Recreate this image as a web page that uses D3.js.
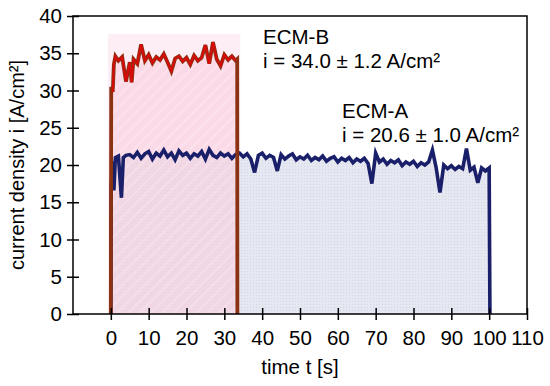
<!DOCTYPE html>
<html>
<head>
<meta charset="utf-8">
<script src="https://cdn.jsdelivr.net/npm/d3@7.9.0/dist/d3.min.js"></script>
<style>
  body { margin: 0; background: #fff; }
  svg { display: block; font-family: "Liberation Sans", Arial, sans-serif; }
  .axis text { font-size: 20.5px; fill: #000; }
  .axis path, .axis line { stroke: #000; stroke-width: 1.5; }
</style>
</head>
<body>
<svg id="chart" width="550" height="386"></svg>
<script>
// ECM-A: time [s] and current density [A/cm²]
const timeA = [0, 0.1, 0.5, 0.8, 1.2, 2, 2.8, 3.3, 4,
  5, 6, 7, 8, 9, 10, 11, 12, 13, 14, 15, 16, 17, 18, 19, 20,
  21, 22, 23, 24, 25, 26, 27, 28, 29, 30, 31, 32, 33, 34, 35, 36,
  37, 38, 39, 40, 41, 42, 43, 44, 45, 46, 47, 48, 49, 50, 51, 52,
  53, 54, 55, 56, 57, 58, 59, 60, 61, 62, 63, 64, 65, 66, 67, 68,
  69, 70, 71, 72, 73, 74, 75, 76, 77, 78, 79, 80, 81, 82, 83, 84,
  85, 86, 87, 88, 89, 90, 91, 92, 93, 94, 95, 96, 97, 98, 99, 100, 100.2];
const currentA = [0, 17.0, 20.5, 16.6, 21.0, 21.2, 15.6, 21.0, 21.3,
  21.4, 21.0, 21.7, 20.9, 21.5, 21.8, 20.8, 21.6, 21.2, 22.0, 21.1, 21.6, 20.7, 21.9, 21.3, 21.6,
  20.9, 21.5, 21.2, 21.8, 20.8, 22.1, 21.3, 21.0, 21.6, 21.2, 21.5, 20.9, 21.4, 21.6, 21.1, 21.5,
  20.8, 19.0, 21.3, 21.6, 20.9, 21.3, 21.0, 19.2, 21.4, 20.8, 21.2, 21.5, 20.7, 21.1, 20.8, 21.3,
  20.6, 21.0, 20.7, 21.2, 20.5, 20.9, 21.1, 20.4, 20.9, 20.6, 21.0, 20.3, 20.8, 20.5, 20.9, 20.2,
  17.5, 21.6, 20.4, 20.8, 20.1, 20.6, 20.3, 20.7, 19.9, 20.4, 20.1, 20.5, 19.8, 20.3, 20.0, 20.4,
  22.0, 19.6, 16.3, 20.0, 19.5, 19.9, 19.4, 19.8, 19.5, 22.2, 19.3, 19.7, 17.6, 19.6, 19.2, 19.6, 0];

// ECM-B
const timeB = [0, 0.1, 0.5, 0.8, 1.2, 2, 3, 4, 5, 5.5, 6, 7, 8, 9, 10, 11, 12, 13, 14, 15, 16,
  17, 18, 19, 20, 21, 22, 23, 24, 25, 26, 27, 28, 29, 30, 31, 32, 33, 33.4, 33.45];
const currentB = [0, 30.5, 29.8, 33.5, 34.6, 34.0, 34.5, 31.2, 33.8, 31.1, 34.2, 33.6, 36.2, 34.0, 34.8, 33.7, 34.5, 34.1, 34.9, 33.8, 32.6,
  34.3, 34.6, 33.9, 34.4, 33.5, 34.7, 34.0, 34.4, 36.1, 33.6, 36.5, 34.2, 33.3, 34.8, 34.1, 34.6, 34.0, 34.2, 0];

const xTicks = [0, 10, 20, 30, 40, 50, 60, 70, 80, 90, 100, 110];
const yTicks = [0, 5, 10, 15, 20, 25, 30, 35, 40];

const labelB = ["ECM-B", "i = 34.0 ± 1.2 A/cm²"];
const labelA = ["ECM-A", "i = 20.6 ± 1.0 A/cm²"];

const svg = d3.select('#chart');
const margin = { left: 73, top: 16, right: 23, bottom: 72 };
const width = 550 - margin.left - margin.right;
const height = 386 - margin.top - margin.bottom;

const x = d3.scaleLinear().domain([-10, 110]).range([0, width]);
const y = d3.scaleLinear().domain([0, 40]).range([height, 0]);

// patterns for the filled areas
const defs = svg.append('defs');
const patA = defs.append('pattern').attr('id', 'dotsA')
  .attr('patternUnits', 'userSpaceOnUse').attr('width', 3).attr('height', 3);
patA.append('rect').attr('width', 3).attr('height', 3).attr('fill', '#e6e8f1');
patA.append('rect').attr('width', 1).attr('height', 1).attr('fill', '#d4d7e5');

const patB = defs.append('pattern').attr('id', 'hatchB')
  .attr('patternUnits', 'userSpaceOnUse').attr('width', 8).attr('height', 8)
  .attr('patternTransform', 'rotate(45)');
patB.append('rect').attr('width', 8).attr('height', 8).attr('fill', 'rgba(250,205,222,0.6)');
patB.append('rect').attr('width', 2).attr('height', 8).attr('fill', 'rgba(255,255,255,0.2)');

const g = svg.append('g').attr('transform', `translate(${margin.left},${margin.top})`);

const area = d3.area().x(d => x(d[0])).y0(y(0)).y1(d => y(d[1]));
const line = d3.line().x(d => x(d[0])).y(d => y(d[1]));

const dataA = timeA.map((t, i) => [t, currentA[i]]);
const dataB = timeB.map((t, i) => [t, currentB[i]]);

// faint halo around ECM-B block
g.append('rect')
  .attr('x', x(-0.8)).attr('y', y(37.6))
  .attr('width', x(34.2) - x(-0.8)).attr('height', y(0) - y(37.6))
  .attr('fill', '#fdeef6');

g.append('path').datum(dataA).attr('d', area).attr('fill', 'url(#dotsA)');
g.append('path').datum(dataB).attr('d', area).attr('fill', 'url(#hatchB)');

g.append('path').datum(dataA).attr('d', line)
  .attr('fill', 'none').attr('stroke', '#1a1f6a').attr('stroke-width', 3.6)
  .attr('stroke-linejoin', 'miter');

g.append('path').datum(dataB).attr('d', line)
  .attr('fill', 'none').attr('stroke', '#8a3212').attr('stroke-width', 3.8)
  .attr('stroke-linejoin', 'miter');
g.append('path').datum(dataB.slice(2, -2)).attr('d', line)
  .attr('fill', 'none').attr('stroke', '#d80a0a').attr('stroke-width', 2)
  .attr('stroke-linejoin', 'miter');

// frame
g.append('rect').attr('width', width).attr('height', height)
  .attr('fill', 'none').attr('stroke', '#000').attr('stroke-width', 1.5);

// axes
const xAxis = g.append('g').attr('class', 'axis')
  .attr('transform', `translate(0,${height})`)
  .call(d3.axisBottom(x).tickValues(xTicks).tickSize(6).tickPadding(10).tickSizeOuter(0));
xAxis.selectAll('.tick line').attr('y1', -6);
xAxis.select('.domain').remove();

const yAxis = g.append('g').attr('class', 'axis')
  .call(d3.axisLeft(y).tickValues(yTicks).tickSize(6).tickPadding(4).tickSizeOuter(0));
yAxis.selectAll('.tick line').attr('x1', 6).attr('x2', -6);
yAxis.selectAll('.tick text').attr('x', -11);
yAxis.select('.domain').remove();

// axis titles
svg.append('text')
  .attr('x', margin.left + x(50)).attr('y', 374)
  .attr('text-anchor', 'middle').attr('font-size', 20.5)
  .text('time t [s]');

svg.append('text')
  .attr('transform', `translate(24,${margin.top + height / 2}) rotate(-90)`)
  .attr('text-anchor', 'middle').attr('font-size', 20)
  .text('current density i [A/cm²]');

// annotations
function annot(lines, px, py) {
  const t = svg.append('text').attr('font-size', 20.5);
  lines.forEach((s, i) => {
    t.append('tspan').attr('x', px).attr('y', py + i * 24).text(s);
  });
}
annot(labelB, 263, 44);
annot(labelA, 342, 118);
</script>
</body>
</html>
